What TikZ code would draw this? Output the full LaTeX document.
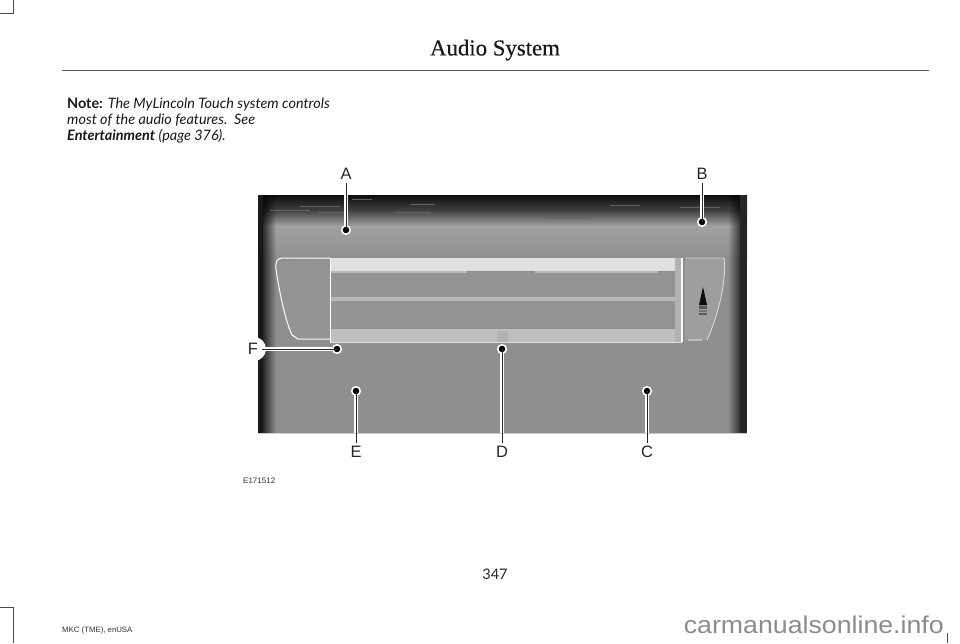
\documentclass[tikz,border=0pt]{standalone}
\usepackage{fontspec}
\setmainfont{Lato}
\newfontfamily\titlefont[FakeBold=0.4]{Liberation Serif}
\newfontfamily\labelfont{Liberation Sans}
\newfontfamily\sitefont[FakeStretch=1.1]{Liberation Sans}
\usepackage{tikz}
\usetikzlibrary{fadings}
\begin{document}
\begin{tikzpicture}[
      x=1pt, y=-1pt,
      crop_line/.style={draw=black!70, line width=0.7pt},
      callout_label/.style={font=\labelfont\fontsize{16.5}{16}\selectfont, text=black!85, inner sep=0pt},
      callout_halo/.style={draw=white, line width=3.2pt},
      callout_line/.style={draw=black!85, line width=0.9pt},
      callout_dot/.style={circle, fill=black, draw=white, line width=1.6pt, minimum size=8.5pt, inner sep=0pt},
      light_line/.style={draw=white, line width=1pt, line join=round}
    ]
      \useasboundingbox (0,0) rectangle (960,643);
      \fill[white] (0,0) rectangle (960,643);

      % Crop marks in the page corners
      \draw[crop_line] (13,0) -- (13,13) -- (0,13);
      \draw[crop_line] (0,607) -- (13,607) -- (13,643);
      \draw[crop_line] (947,633) -- (947,643);

      % Page header
      \node[font=\titlefont\fontsize{22.8}{23}\selectfont, text=black!90] (title) at (495,50) {Audio System};
      \draw[draw=black!65, line width=1pt] (62,70) -- (929,70);

      % Note above the photo
      \node[anchor=north west, inner sep=0pt, align=left, font=\fontsize{14.4}{16}\selectfont, text=black!90] (note) at (67,97.5)
        {\textbf{Note:} \textit{The MyLincoln Touch system controls}\\\textit{most of the audio features.\ \ See}\\\textbf{\textit{Entertainment}} \textit{(page 376).}};

      % Photo background
      \fill[black!44] (258,195) rectangle (747,433);
      \shade[top color=black!37, bottom color=black!44] (258,226) rectangle (747,258);
      \shade[top color=black!75, bottom color=black!37] (258,210) rectangle (747,226);
      \shade[top color=black!95, bottom color=black!75] (258,195) rectangle (747,210);

      % Dark sides of the photo
      \fill[black, path fading=east] (258,195) rectangle (276,433);
      \fill[black, path fading=west] (728,195) rectangle (747,433);
      \fill[black!90] (258,195) rectangle (263,433);
      \fill[black!85] (740,195) rectangle (747,433);
      \draw[black!20, line width=0.8pt] (258,433) -- (747,433);

      % Noise in the dark top band
      \foreach \xa/\xb/\yy in {300/340/206, 352/372/199, 395/430/212, 410/435/204, 545/590/217, 610/640/205, 680/720/207, 270/310/210, 318/345/212}{
        \draw[black!62, line width=1pt] (\xa,\yy) -- (\xb,\yy);
      }

      % Console slats and bands
      \fill[black!12] (330,258) rectangle (675,271);
      \fill[black!25] (330,329) rectangle (675,343);
      \fill[black!42] (331,272) rectangle (675,297);
      \fill[black!42] (331,301) rectangle (675,328);
      \fill[black!28] (331,297) rectangle (675,301);
      \fill[black!28] (330,271) rectangle (467,273);
      \fill[black!28] (535,271) rectangle (658,273);
      \fill[black!30] (497,331) rectangle (508,343);
      \draw[draw=black!12, line width=1pt] (330,342) -- (682,342);

      % Left panel outline
      \fill[black!42] (278,262) .. controls (279,290) and (285,320) .. (292,335) -- (298,339) -- (330,339) -- (330,258) -- cycle;
      \draw[light_line] (330,258) -- (283,258) .. controls (277,258) and (275,262) .. (276,269) .. controls (279,290) and (285,320) .. (292,335) -- (298,339) -- (330,339);
      \draw[light_line] (330,258) -- (330,342);

      % Right panel
      \fill[black!38] (685,258) -- (725,258) .. controls (726,285) and (715,320) .. (707,340) -- (685,340) -- cycle;
      \draw[draw=black!15, line width=0.9pt] (686,258) -- (724,258) .. controls (727,285) and (716,320) .. (707,340);
      \fill[black!30] (675,258) rectangle (681,342);
      \draw[light_line, line width=1.6pt] (682,258) -- (682,342);
      \node[fill=black!25, minimum width=14pt, minimum height=2pt, inner sep=0pt] (right_lip) at (695,340) {};

      % Small arrow mark on the right panel
      \fill[black!95] (703,287) -- (707,305) -- (699,305) -- cycle;
      \fill[black!65] (699,306) rectangle (707,309);
      \fill[black!55] (699,310) rectangle (707,312);
      \fill[black!65] (699,313) rectangle (707,315);

      % Callout labels
      \node[callout_label] (label_a) at (346,174) {A};
      \node[callout_label] (label_b) at (702,174) {B};
      \node[callout_label] (label_c) at (647,452) {C};
      \node[callout_label] (label_d) at (502,452) {D};
      \node[callout_label] (label_e) at (356,452) {E};
      \fill[white] (254,349) circle (12);
      \node[callout_label] (label_f) at (253,349) {F};

      % Callout dots
      \coordinate (dot_a) at (346,230);
      \coordinate (dot_b) at (702,222);
      \coordinate (dot_c) at (647,391);
      \coordinate (dot_d) at (502,349);
      \coordinate (dot_e) at (356,391);
      \coordinate (dot_f) at (337,349);

      % Leader lines, white halo under a thin dark line
      \foreach \to/\yy in {dot_a/195, dot_b/195, dot_c/433, dot_d/433, dot_e/433}{
        \draw[callout_halo] (\to) -- (\to |- 0,\yy);
      }
      \draw[callout_halo] (dot_f) -- (label_f.east);
      \foreach \to in {dot_a,dot_b,dot_c,dot_d,dot_e,dot_f}{
        \node[callout_dot] at (\to) {};
      }
      \draw[callout_line] (label_a.south) ++(0,3) -- (dot_a);
      \draw[callout_line] (label_b.south) ++(0,3) -- (dot_b);
      \draw[callout_line] (label_c.north) ++(0,-3) -- (dot_c);
      \draw[callout_line] (label_d.north) ++(0,-3) -- (dot_d);
      \draw[callout_line] (label_e.north) ++(0,-3) -- (dot_e);
      \draw[callout_line] (label_f.east) ++(4,0) -- (dot_f);

      % Figure number, page number, footer, site mark
      \node[anchor=west, inner sep=0pt, font=\labelfont\fontsize{8}{8}\selectfont, text=black!80] (figure_no) at (243,481) {E171512};
      \node[font=\fontsize{14.5}{14}\selectfont, text=black!85] (page_no) at (495,574) {347};
      \node[anchor=west, inner sep=0pt, font=\labelfont\fontsize{7.8}{8}\selectfont, text=black!80] (footer) at (62,630) {MKC (TME), enUSA};
      \node[anchor=base east, inner sep=0pt, font=\sitefont\fontsize{24.3}{24}\selectfont, text=black!45] (site_mark) at (944,633) {carmanualsonline.info};
    \end{tikzpicture}
\end{document}
